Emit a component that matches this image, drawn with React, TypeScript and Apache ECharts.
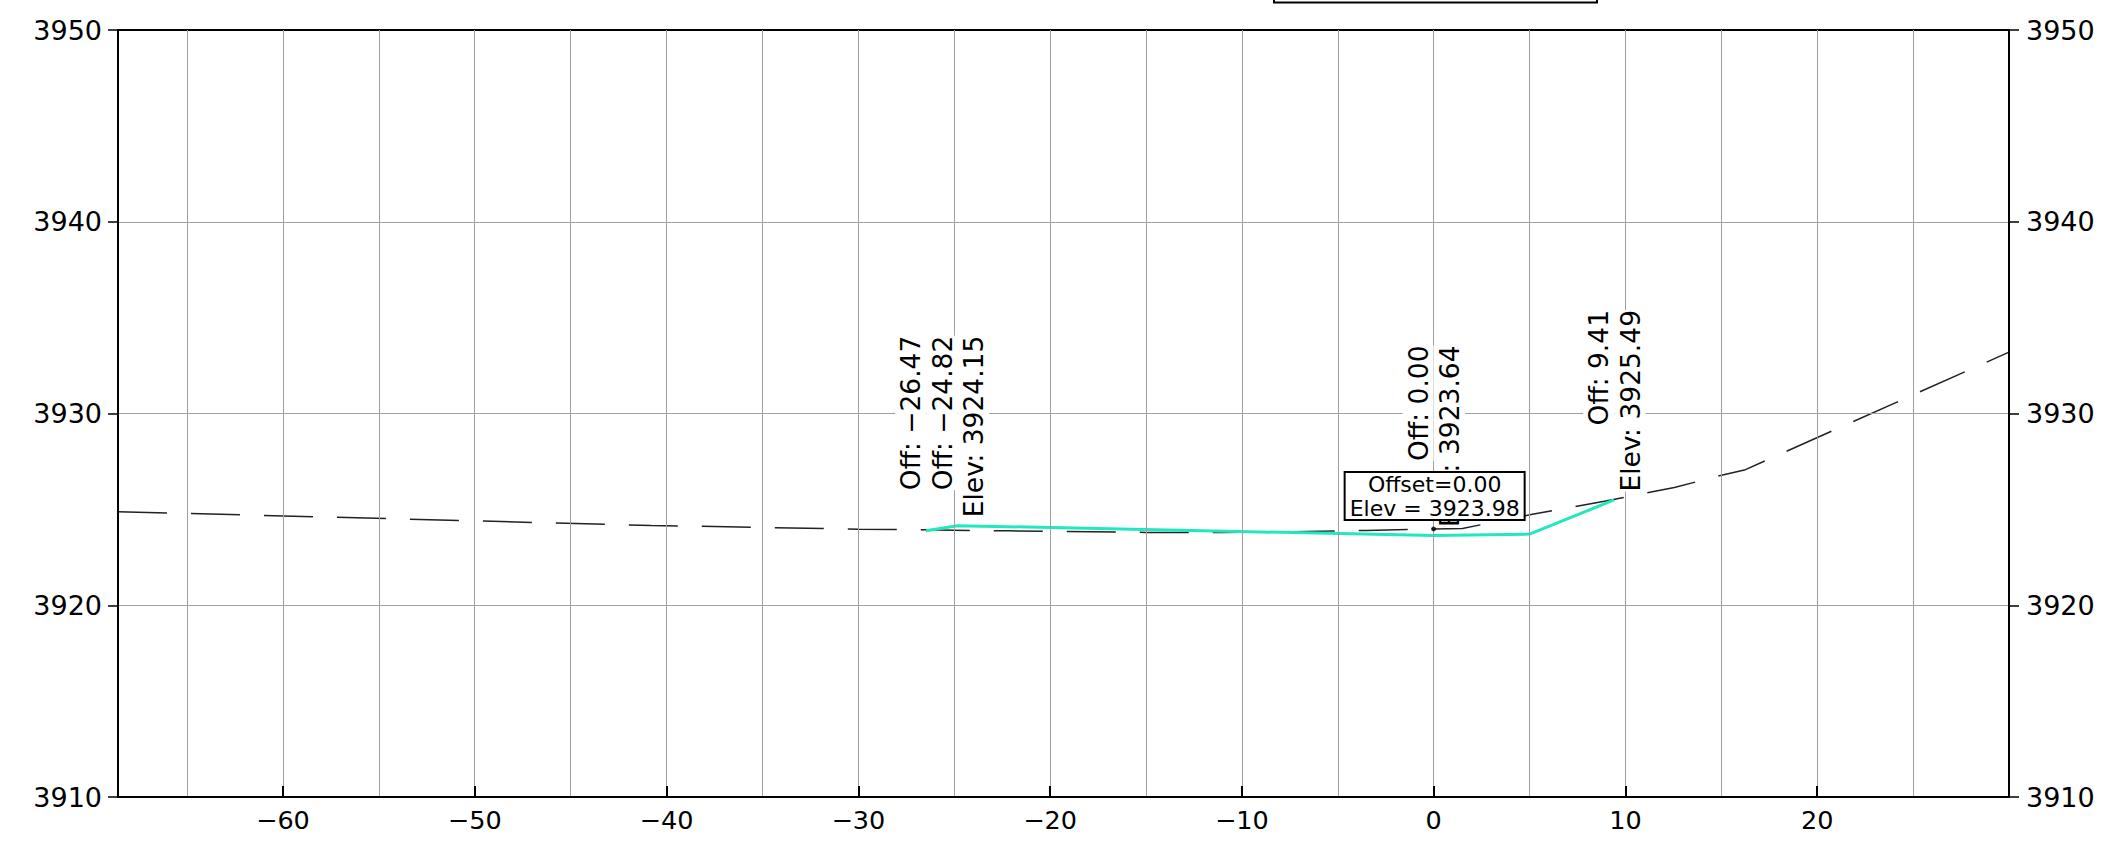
import React, { useEffect, useRef } from 'react';
import * as echarts from 'echarts';

// Axis ranges and ticks
const xMin = -68.6;
const xMax = 30;
const yMin = 3910;
const yMax = 3950;
const yInterval = 10;
const xTickValues = [-60, -50, -40, -30, -20, -10, 0, 10, 20];
const xGridValues = [-65, -60, -55, -50, -45, -40, -35, -30, -25, -20, -15, -10, -5, 0, 5, 10, 15, 20, 25];

// Existing ground (dashed)
const existingOffsets = [-68.6, -40.8, -30, -22.2, -15, -11, -7.3, -3.5, 0, 1.5, 5.15, 8.9, 12.55, 14.9, 16.2, 30];
const existingElevs = [3924.88, 3924.16, 3923.97, 3923.88, 3923.8, 3923.8, 3923.83, 3923.9, 3923.98, 3924.0, 3924.75, 3925.42, 3926.14, 3926.75, 3927.05, 3933.2];

// Proposed section (cyan)
const proposedOffsets = [-26.47, -24.82, 0, 5.0, 9.41];
const proposedElevs = [3923.88, 3924.15, 3923.64, 3923.71, 3925.49];

// Query point
const queryOffset = 0;
const queryElev = 3923.98;

// Annotation groups: anchor point and the offsets / elevation written
const annotationAnchors: [number, number][] = [
  [-24.82, 3924.15],
  [0, 3923.64],
  [9.41, 3925.49],
];
const annotationOffsets: number[][] = [[-26.47, -24.82], [0.0], [9.41]];

const FONT = '"DejaVu Sans", "Liberation Sans", sans-serif';

function fmtOff(v: number) {
  const s = v.toFixed(2);
  return v < 0 ? '\u2212' + s.slice(1) : s;
}

export default function App() {
  const ref = useRef<HTMLDivElement>(null);

  useEffect(() => {
    const chart = echarts.init(ref.current!, null, { renderer: 'svg' });

    const yAxisBase = (pos: 'left' | 'right', margin: number, split: boolean) => ({
      type: 'value',
      min: yMin,
      max: yMax,
      interval: yInterval,
      position: pos,
      z: 5,
      axisLine: { show: true, onZero: false, lineStyle: { color: '#000', width: 2 } },
      axisTick: { show: true, inside: false, length: 10, lineStyle: { color: '#000', width: 1.5 } },
      axisLabel: {
        color: '#000',
        fontSize: 27,
        fontFamily: FONT,
        margin,
        formatter: (v: number) => String(v),
      },
      splitLine: {
        show: split,
        showMinLine: false,
        showMaxLine: false,
        lineStyle: { color: '#a0a0a0', width: 1 },
      },
    });

    const option: any = {
      animation: false,
      backgroundColor: '#fff',
      grid: {
        left: 118,
        right: 101,
        top: 30,
        bottom: 46,
        show: true,
        borderColor: '#000',
        borderWidth: 2,
        backgroundColor: 'transparent',
      },
      xAxis: {
        type: 'value',
        min: xMin,
        max: xMax,
        position: 'bottom',
        z: 5,
        axisLine: { show: true, onZero: false, lineStyle: { color: '#000', width: 2 } },
        axisTick: {
          show: true,
          inside: true,
          length: 11,
          customValues: xTickValues,
          lineStyle: { color: '#000', width: 2 },
        },
        axisLabel: {
          show: true,
          customValues: xTickValues,
          margin: 10,
          color: '#000',
          fontSize: 25.5,
          fontFamily: FONT,
          formatter: (v: number) => String(v).replace('-', '\u2212'),
        },
        splitLine: { show: false },
      },
      yAxis: [yAxisBase('left', 16, true), yAxisBase('right', 17, false)],
      series: [
        {
          name: 'grid',
          type: 'line',
          data: [],
          z: 1,
          silent: true,
          markLine: {
            silent: true,
            symbol: 'none',
            label: { show: false },
            emphasis: { disabled: true },
            lineStyle: { color: '#a0a0a0', width: 1, type: 'solid' },
            data: xGridValues.map((v) => ({ xAxis: v })),
          },
        },
        {
          name: 'Existing Ground',
          type: 'line',
          z: 3,
          symbol: 'none',
          silent: true,
          lineStyle: { color: '#222', width: 1.5, type: [49, 24] },
          data: existingOffsets.map((x, i) => [x, existingElevs[i]]),
        },
        {
          name: 'Proposed',
          type: 'line',
          z: 4,
          symbol: 'none',
          silent: true,
          lineStyle: { color: '#20e8bf', width: 3 },
          data: proposedOffsets.map((x, i) => [x, proposedElevs[i]]),
        },
        {
          name: 'Query',
          type: 'scatter',
          z: 5,
          symbolSize: 5,
          silent: true,
          itemStyle: { color: '#000' },
          data: [[queryOffset, queryElev]],
        },
      ],
    };

    chart.setOption(option);

    const toPx = (x: number, y: number) =>
      chart.convertToPixel({ xAxisIndex: 0, yAxisIndex: 0 } as any, [x, y]) as number[];

    const graphics: any[] = [];

    // top partially visible box
    graphics.push({
      type: 'rect',
      z: 30,
      shape: { x: 1274, y: -20, width: 323, height: 22.5 },
      style: { fill: 'none', stroke: '#000', lineWidth: 2 },
      silent: true,
    });

    annotationAnchors.forEach((anchor, gi) => {
      const [px, py] = toPx(anchor[0], anchor[1]);
      const lines = annotationOffsets[gi].map((o) => 'Off: ' + fmtOff(o));
      lines.push('Elev: ' + anchor[1].toFixed(2));
      const n = lines.length;
      lines.forEach((t, li) => {
        const dx = 16 - (n - 1 - li) * 31.5;
        graphics.push({
          type: 'text',
          z: 20,
          x: px + dx,
          y: py - 190,
          rotation: Math.PI / 2,
          silent: true,
          style: {
            text: t,
            fill: '#000',
            fontSize: 26.5,
            fontFamily: FONT,
            align: 'right',
            verticalAlign: 'middle',
            backgroundColor: '#fff',
            padding: [2, 0],
          },
        });
      });
    });

    // info box for the query point
    const [qx, qy] = toPx(queryOffset, queryElev);
    const bw = 180;
    const bh = 48;
    const bx = qx + 1 - bw / 2;
    const by = qy - 9 - bh;
    graphics.push({
      type: 'group',
      z: 40,
      silent: true,
      children: [
        {
          type: 'rect',
          z: 40,
          shape: { x: bx, y: by, width: bw, height: bh },
          style: { fill: '#fff', stroke: '#000', lineWidth: 2 },
        },
        {
          type: 'text',
          z: 41,
          x: bx + bw / 2,
          y: by + 12.5,
          style: {
            text: 'Offset=' + queryOffset.toFixed(2),
            fill: '#000',
            fontSize: 22,
            fontFamily: FONT,
            align: 'center',
            verticalAlign: 'middle',
          },
        },
        {
          type: 'text',
          z: 41,
          x: bx + bw / 2,
          y: by + 36.5,
          style: {
            text: 'Elev = ' + queryElev.toFixed(2),
            fill: '#000',
            fontSize: 22,
            fontFamily: FONT,
            align: 'center',
            verticalAlign: 'middle',
          },
        },
      ],
    });

    chart.setOption({ graphic: graphics });

    return () => {
      chart.dispose();
    };
  }, []);

  return (
    <div
      ref={ref}
      style={{ position: 'fixed', left: 0, top: 0, width: 2110, height: 843, background: '#fff' }}
    />
  );
}
